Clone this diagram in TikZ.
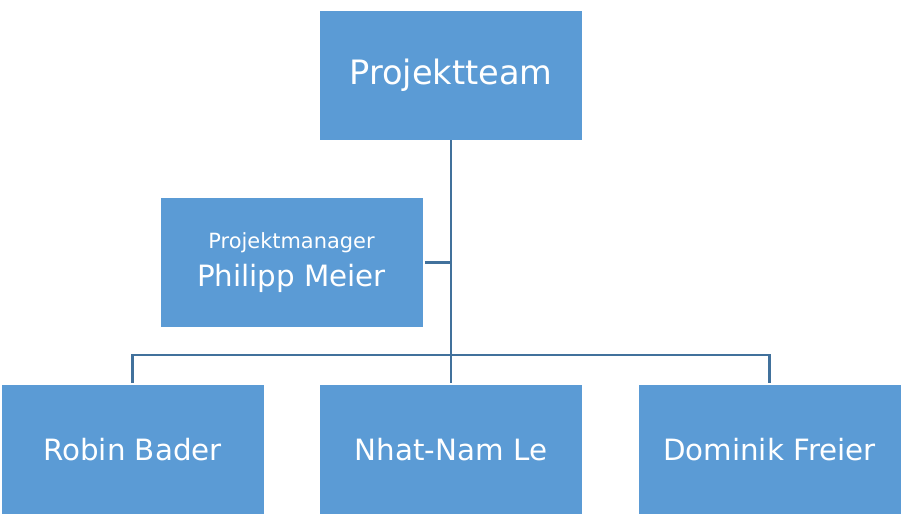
\documentclass[tikz,border=0pt]{standalone}
\usepackage{xcolor}
\usepackage{fontspec}
\setmainfont{DejaVu Sans}
\usepackage{tikz}
\usetikzlibrary{positioning}

\definecolor{boxblue}{HTML}{5B9BD5}
\definecolor{lineblue}{HTML}{41719C}

\begin{document}
\begin{tikzpicture}[x = 0.75pt, y = -0.75pt]

  \tikzstyle{member}=[fill=boxblue, text=white, inner sep=0, align=center,
                      minimum width=196.5pt, minimum height=96.75pt]
  \tikzstyle{teamtext}=[font=\fontsize{25.2}{30}\selectfont]
  \tikzstyle{persontext}=[font=\fontsize{22}{26}\selectfont]
  \tikzstyle{link}=[draw=lineblue, line width=1.6pt]

  \useasboundingbox (0, 0) rectangle (902, 525);

  \node [member, teamtext] (team) at (451, 75.5) {Projektteam};
  \node [member, persontext] (manager) at (291.5, 262.5)
    {{\fontsize{15.7}{19}\selectfont Projektmanager}\\[3pt] Philipp Meier};

  \node [member, persontext] (nhat) at (451, 449.5) {Nhat-Nam Le};
  \node [member, persontext] (robin) at (132.5, 449.5) {Robin Bader};
  \node [member, persontext] (freier) at (769.5, 449.5) {Dominik Freier};

  \coordinate (bus) at (451, 355);

  \draw [link] (team.south) -- ([yshift=1.5pt]nhat.north);
  \draw [link] ([xshift=1.5pt]manager.east) -- (manager.east -| team.south);
  \draw [link] ([yshift=1.5pt]robin.north) |- (bus) -| ([yshift=1.5pt]freier.north);
\end{tikzpicture}
\end{document}
